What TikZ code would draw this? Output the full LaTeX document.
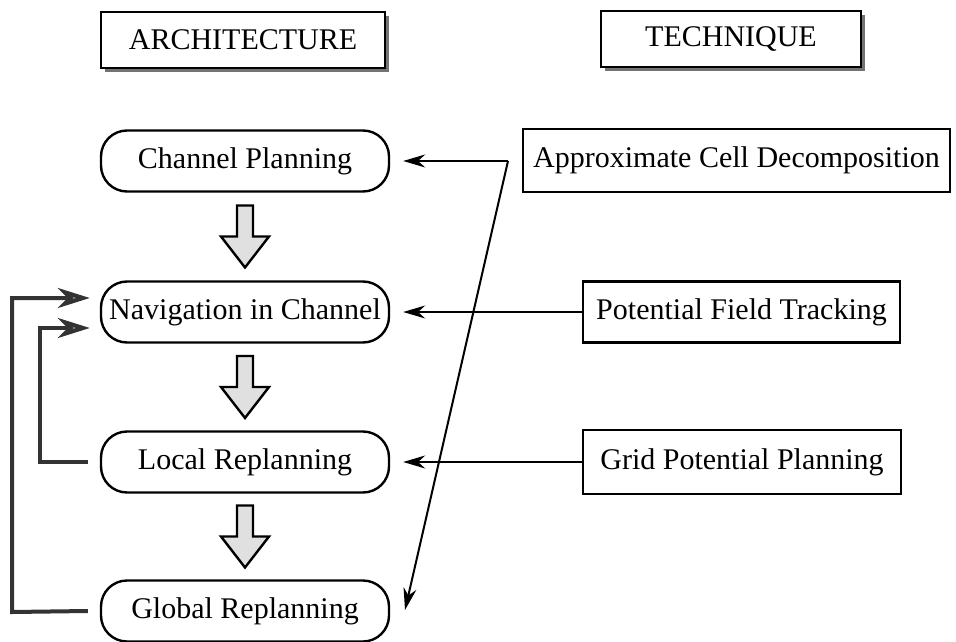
\documentclass[tikz,border=0pt]{standalone}
\usepackage{fontspec}
\setmainfont{Liberation Serif}
\usepackage{tikz}
\usetikzlibrary{calc,arrows.meta,shadows}
\tikzset{>={Stealth[length=11pt,width=6.5pt]},
  head/.style={draw,line width=0.6pt,fill=white,minimum height=28pt,
    font=\fontsize{15}{18}\selectfont,
    drop shadow={shadow xshift=1.8pt,shadow yshift=-1.8pt,fill=black!55,opacity=1}},
  stage/.style={draw,line width=1.2pt,rounded corners=13pt,minimum width=144pt,
    minimum height=30.5pt,font=\fontsize{15}{18}\selectfont},
  tech/.style={draw,line width=1.2pt,minimum height=30.5pt,inner xsep=5pt,
    font=\fontsize{15}{18}\selectfont},
  link/.style={line width=1pt,->,shorten >=6.5pt},
  fb/.style={line width=2pt,draw=black!80,
    -{Stealth[length=16pt,width=10pt,inset=5pt,fill=black!40]},shorten >=5pt}}

\begin{document}
\begin{tikzpicture}[x=0.5pt,y=-0.5pt]
\useasboundingbox (0,0) rectangle (956,641);

\node[head,minimum width=142pt] (arch) at (243,40) {ARCHITECTURE};
    \node[head,minimum width=130pt] (techh) at (731,39) {TECHNIQUE};

\node[stage] (chan) at (245,161) {Channel Planning};
    \node[stage] (nav) at (245,312) {Navigation in Channel};
    \node[stage] (loc) at (245,462) {Local Replanning};
    \node[stage] (glob) at (245,611) {Global Replanning};

\node[tech,minimum width=213.5pt,minimum height=31.5pt] (acd) at (736.5,160.5) {Approximate Cell Decomposition};
    \node[tech,minimum width=158.5pt] (pft) at (741.5,312) {Potential Field Tracking};
    \node[tech,minimum width=159pt,minimum height=32pt] (gpp) at (742,462) {Grid Potential Planning};

% hollow flow arrows between stages
\foreach \a/\b in {chan/nav,nav/loc,loc/glob}
    \draw[line width=1.2pt,fill=black!12,line join=miter]
      ($(\a.south)!0.5!(\b.north)$) ++(-8,-31) -- ++(16,0) -- ++(0,31) -- ++(16,0)
      -- ++(-24,31) -- ++(-24,-31) -- ++(16,0) -- cycle;

\draw[link] (pft.west) -- (nav.east);
    \draw[link] (gpp.west) -- (loc.east);

\coordinate (split) at (508,161);
    \coordinate (gtip) at (405,610);
    \draw[link] (split) -- (chan.east);
    \draw[line width=1pt,->] (split) -- (gtip);

% feedback loops
\coordinate (o1) at (12,612);
    \coordinate (o2) at (12,298);
    \coordinate (i1) at (40,462);
    \coordinate (i2) at (40,328);
    \draw[fb] ([xshift=-6pt]glob.west) -- (o1) -- (o2) -- ([yshift=7pt]nav.west);
    \draw[fb] ([xshift=-6pt]loc.west) -- (i1) -- (i2) -- ([yshift=-8pt]nav.west);

\end{tikzpicture}
\end{document}
